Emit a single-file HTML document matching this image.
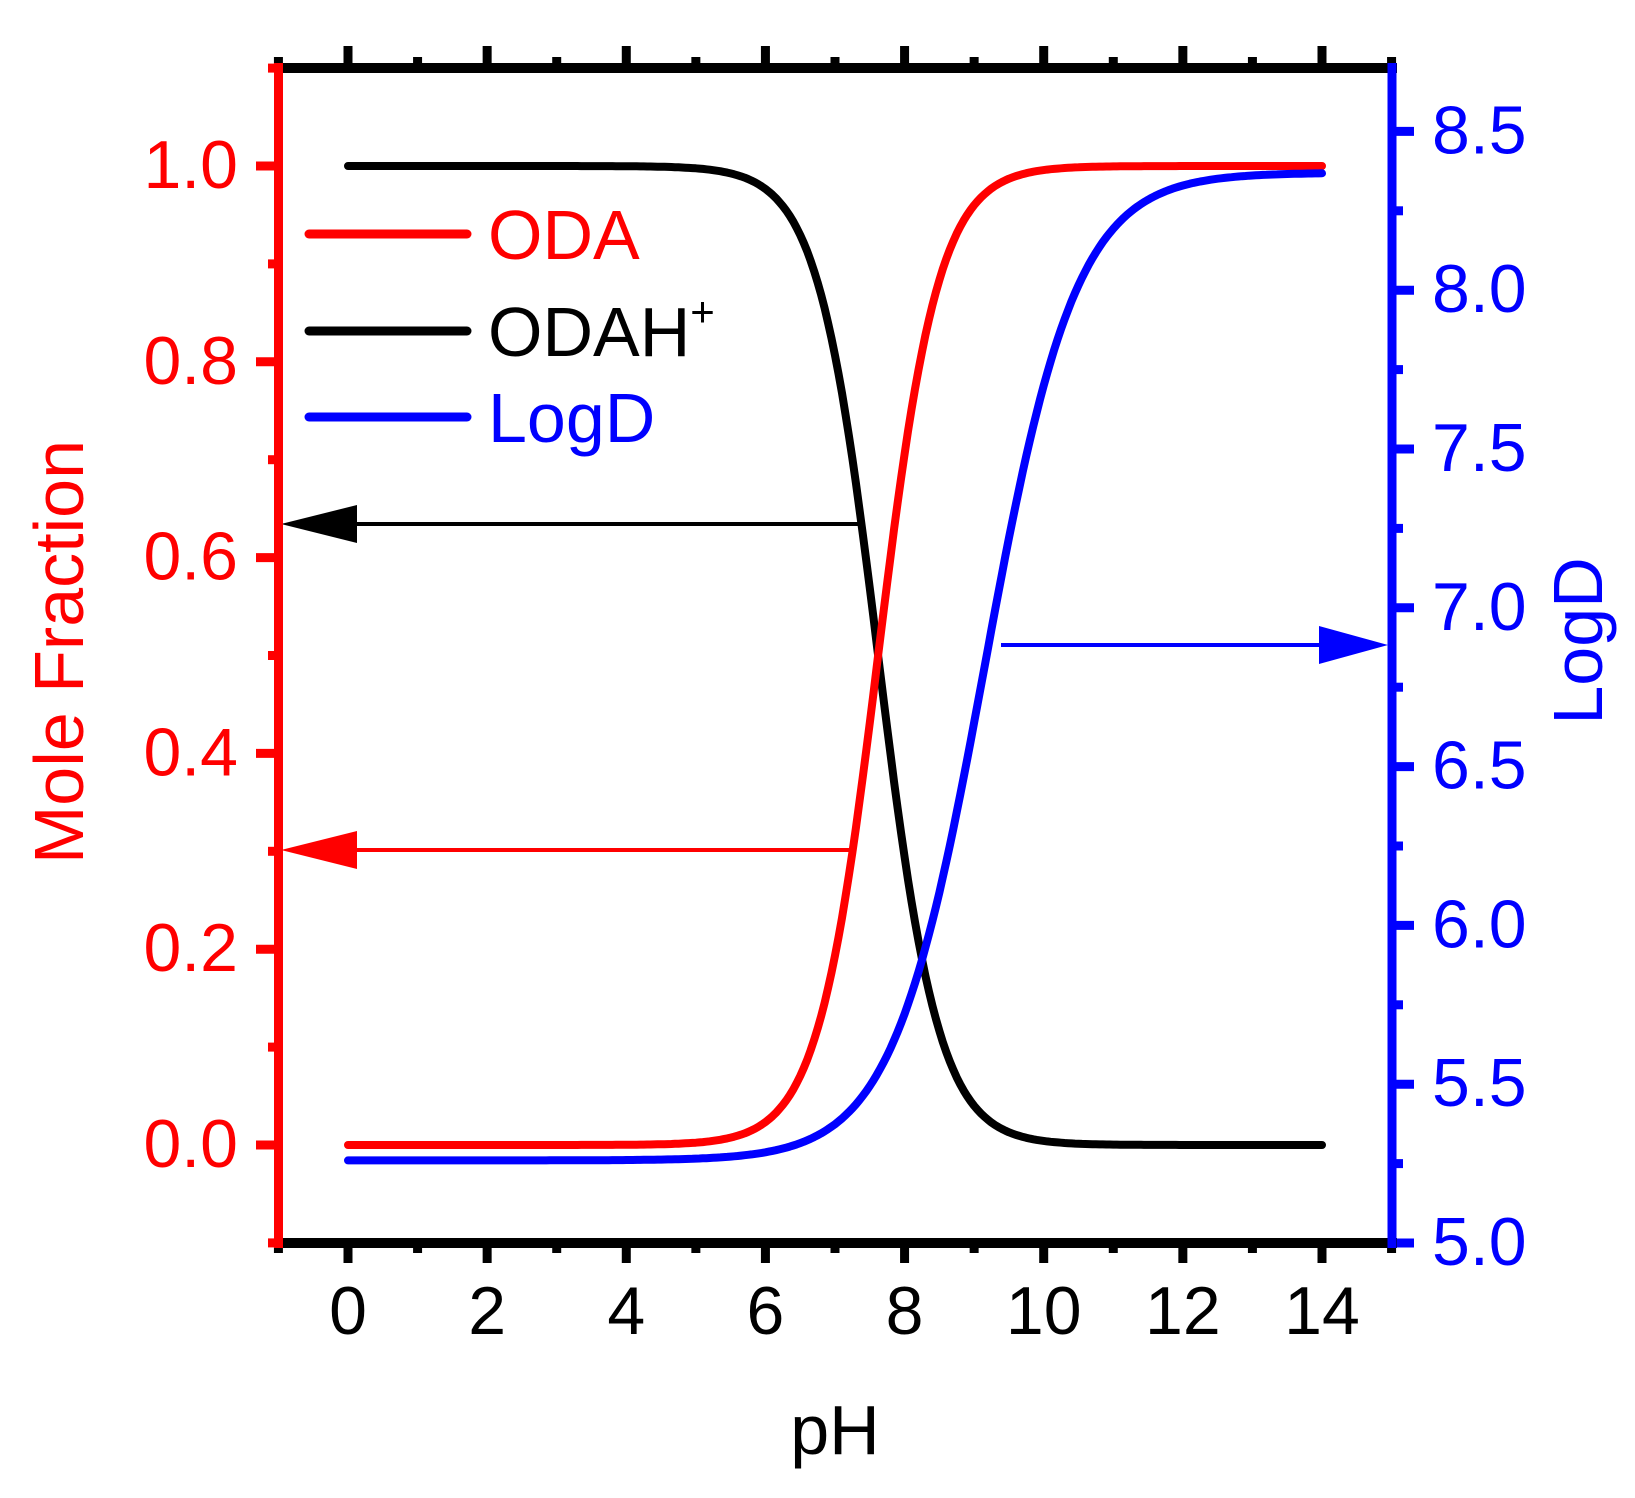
<!DOCTYPE html>
<html><head><meta charset="utf-8"><style>
html,body{margin:0;padding:0;background:#fff;}
svg{display:block;}
text{font-family:"Liberation Sans",Arial,sans-serif;}
</style></head><body>
<svg id="s" width="1635" height="1498" viewBox="0 0 1635 1498" xmlns="http://www.w3.org/2000/svg">
<g id="curves" fill="none" stroke-width="8" stroke-linejoin="round" stroke-linecap="round"></g>
<line x1="340" y1="524" x2="859" y2="524" stroke="#000" stroke-width="4"/>
<polygon points="281,524 357,505 357,543" fill="#000"/>
<line x1="340" y1="850" x2="849" y2="850" stroke="#f00" stroke-width="4"/>
<polygon points="281,850 357,831 357,869" fill="#f00"/>
<line x1="1001" y1="645" x2="1330" y2="645" stroke="#00f" stroke-width="4"/>
<polygon points="1388,645 1319,626 1319,664" fill="#00f"/>
<g id="ticks"></g>
<line x1="274" y1="68" x2="1397" y2="68" stroke="#000" stroke-width="10"/>
<line x1="274" y1="1243" x2="1397" y2="1243" stroke="#000" stroke-width="10"/>
<line x1="278.5" y1="63" x2="278.5" y2="1248" stroke="#f00" stroke-width="9"/>
<line x1="1392" y1="63" x2="1392" y2="1248" stroke="#00f" stroke-width="9"/>
<g id="labels" font-size="68"></g>
<g stroke-width="9" stroke-linecap="round">
<line x1="309" y1="234" x2="467" y2="234" stroke="#f00"/>
<line x1="309" y1="331" x2="467" y2="331" stroke="#000"/>
<line x1="309" y1="417" x2="467" y2="417" stroke="#00f"/>
</g>
<text x="488" y="259" font-size="70" fill="#f00">ODA</text>
<text x="488" y="356" font-size="70" fill="#000">ODAH<tspan font-size="42" dy="-30">+</tspan></text>
<text x="488" y="442" font-size="70" fill="#00f">LogD</text>
<text x="835" y="1454" font-size="70" text-anchor="middle" fill="#000">pH</text>
<text transform="translate(83,652) rotate(-90)" font-size="70" text-anchor="middle" fill="#f00">Mole Fraction</text>
<text transform="translate(1602,641) rotate(-90)" font-size="70" text-anchor="middle" fill="#00f">LogD</text>
</svg>
<script>
var NS="http://www.w3.org/2000/svg";
function X(p){return 348+p*69.571;}
function Y(v){return 1145-v*979;}
function YL(v){return 1243-(v-5)*317.6;}
function el(parent,tag,attrs,txt){var e=document.createElementNS(NS,tag);for(var k in attrs)e.setAttribute(k,attrs[k]);if(txt!==undefined)e.textContent=txt;document.getElementById(parent).appendChild(e);return e;}
var r=[],b=[],bl=[];
for(var p=0;p<=14.0001;p+=0.05){
 var f=1/(1+Math.pow(10,7.62-p));
 r.push(X(p).toFixed(1)+","+Y(f).toFixed(1));
 b.push(X(p).toFixed(1)+","+Y(1-f).toFixed(1));
 var g=1/(1+Math.pow(10,0.66*(9.15-p)));
 bl.push(X(p).toFixed(1)+","+YL(5.26+3.11*g).toFixed(1));
}
el("curves","polyline",{points:b.join(" "),stroke:"#000"});
el("curves","polyline",{points:r.join(" "),stroke:"#f00"});
el("curves","polyline",{points:bl.join(" "),stroke:"#00f"});
for(var p=-1;p<=15;p++){
 var maj=(p%2===0), x=X(p);
 el("ticks","line",{x1:x,y1:1243,x2:x,y2:maj?1263:1253,stroke:"#000","stroke-width":9});
 el("ticks","line",{x1:x,y1:68,x2:x,y2:maj?46:57,stroke:"#000","stroke-width":9});
 if(maj&&p>=0&&p<=14) el("labels","text",{x:x,y:1334,"text-anchor":"middle",fill:"#000"},String(p));
}
for(var i=-1;i<=11;i++){
 var v=i/10, y=Y(v), maj=(i%2===0);
 el("ticks","line",{x1:278,y1:y,x2:maj?256:268,y2:y,stroke:"#f00","stroke-width":9});
 if(maj&&i>=0&&i<=10) el("labels","text",{x:238,y:y+22,"text-anchor":"end",fill:"#f00"},v.toFixed(1));
}
for(var i=0;i<=14;i++){
 var v=5+i*0.25, y=YL(v), maj=(i%2===0);
 el("ticks","line",{x1:1392,y1:y,x2:maj?1414:1403,y2:y,stroke:"#00f","stroke-width":9});
 if(maj) el("labels","text",{x:1432,y:y+22,fill:"#00f"},v.toFixed(1));
}
</script>
</body></html>
